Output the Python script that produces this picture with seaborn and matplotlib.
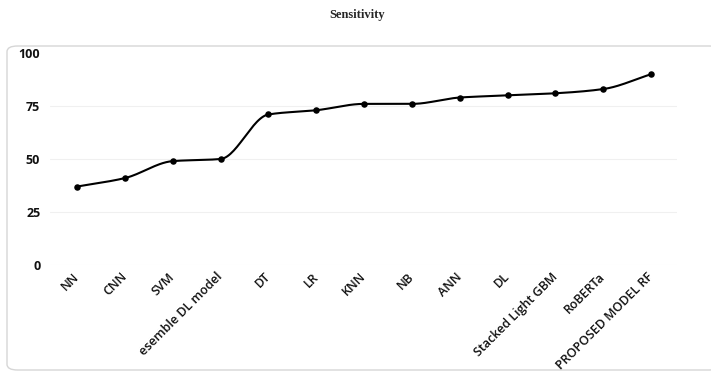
import numpy as np
import pandas as pd
import matplotlib
matplotlib.use("Agg")
import matplotlib.pyplot as plt
import matplotlib.transforms as mtransforms
from matplotlib.patches import FancyBboxPatch
import seaborn as sns

categories = ["NN", "CNN", "SVM", "esemble DL model", "DT", "LR", "KNN", "NB",
              "ANN", "DL", "Stacked Light GBM", "RoBERTa", "PROPOSED MODEL RF"]
sensitivity = [37, 41, 49, 50, 71, 73, 76, 76, 79, 80, 81, 83, 90]
y_ticks = [0, 25, 50, 75, 100]
title = "Sensitivity"

sns.set_theme(style="white")
plt.rcParams['font.family'] = ['Open Sans', 'DejaVu Sans']

df = pd.DataFrame({"model": categories, "value": sensitivity})
df["pos"] = np.arange(len(categories))

W, H = 711, 377
fig = plt.figure(figsize=(W / 100, H / 100), dpi=100)

# rounded card frame
card = FancyBboxPatch((7 / W, 1 - 370 / H), (720 - 7) / W, (370 - 46) / H,
                      boxstyle="round,pad=0,rounding_size=0.015",
                      transform=fig.transFigure, facecolor="white",
                      edgecolor="#d6d6d6", linewidth=1.0, zorder=-5)
fig.patches.append(card)

ax = fig.add_axes([50 / W, 1 - 265 / H, (677 - 50) / W, (265 - 53) / H])
ax.set_zorder(5)
ax.set_facecolor("none")

# smooth monotone curve through the data points (rendering only)
x = df["pos"].to_numpy(dtype=float)
y = df["value"].to_numpy(dtype=float)
h = np.diff(x)
d = np.diff(y) / h
m = np.zeros_like(y)
m[0], m[-1] = d[0], d[-1]
for i in range(1, len(y) - 1):
    if d[i - 1] * d[i] <= 0:
        m[i] = 0
    else:
        m[i] = 2 / (1 / d[i - 1] + 1 / d[i])
xs, ys = [], []
for i in range(len(x) - 1):
    t = np.linspace(0, 1, 30)
    h00 = 2 * t**3 - 3 * t**2 + 1
    h10 = t**3 - 2 * t**2 + t
    h01 = -2 * t**3 + 3 * t**2
    h11 = t**3 - t**2
    xs.append(x[i] + t * h[i])
    ys.append(h00 * y[i] + h10 * h[i] * m[i] + h01 * y[i + 1] + h11 * h[i] * m[i + 1])
ax.plot(np.concatenate(xs), np.concatenate(ys), color="black", lw=1.5, zorder=3)

sns.scatterplot(data=df, x="pos", y="value", ax=ax, color="black", s=22,
                edgecolor="black", linewidth=0, zorder=4, legend=False)

for v in y_ticks[:-1]:
    ax.axhline(v, color="#f0f0f0", lw=0.8, zorder=1)

ax.set_xlim(-0.565, len(categories) - 1 + 0.54)
ax.set_ylim(0, 100)
ax.set_yticks(y_ticks)
ax.set_yticklabels([str(v) for v in y_ticks], fontsize=9, fontweight="bold",
                   color="#111111")
ax.set_xticks(df["pos"])
ax.set_xticklabels(categories, rotation=45, ha="right", va="center",
                   rotation_mode="anchor", fontsize=9, fontweight="semibold",
                   color="#111111")
offset = mtransforms.ScaledTranslation(10 / 100, -3 / 100, fig.dpi_scale_trans)
for lab in ax.get_xticklabels():
    lab.set_transform(lab.get_transform() + offset)
ax.tick_params(axis="x", length=0, pad=7)
ax.tick_params(axis="y", length=0, pad=7)
ax.set_xlabel("")
ax.set_ylabel("")
for s in ax.spines.values():
    s.set_visible(False)

fig.text(357 / W, 1 - 15 / H, title, ha="center", va="center",
         fontsize=9, fontweight="bold", family=["Liberation Serif", "DejaVu Serif"])

fig.savefig("out.png", dpi=100, facecolor="white")
